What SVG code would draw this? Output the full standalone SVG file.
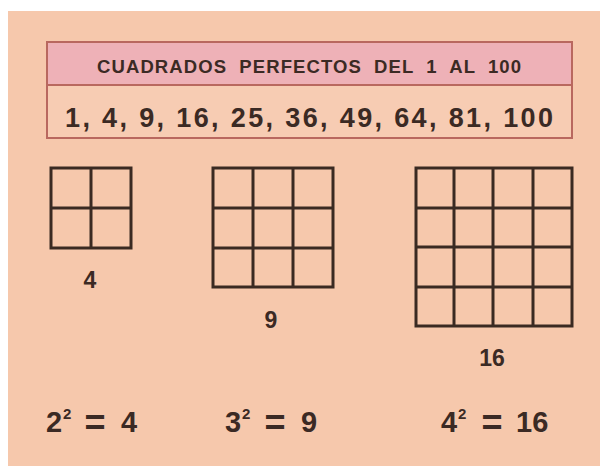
<svg xmlns="http://www.w3.org/2000/svg" width="600" height="466" viewBox="0 0 600 466">
<style>
.t{font-family:"Liberation Sans",Arial,sans-serif;font-weight:bold;fill:#3b2a24}
.g{fill:none;stroke:#3a2a22;stroke-width:3}
.eqs{font-size:36px}
</style>
<rect width="600" height="466" fill="#ffffff"/>
<rect x="8" y="11" width="592" height="455" fill="#f6c8ac"/>
<g id="header">
<rect x="47" y="42" width="525" height="43" fill="#eeb1b7" stroke="#b9685f" stroke-width="2"/>
<rect x="47" y="85" width="525" height="53" fill="#f7ccb3" stroke="#b9685f" stroke-width="2"/>
<text class="t" x="97" y="73" font-size="18.5" word-spacing="6" textLength="424" lengthAdjust="spacing">CUADRADOS PERFECTOS DEL 1 AL 100</text>
<text class="t" x="65" y="127" font-size="27" textLength="488" lengthAdjust="spacing">1, 4, 9, 16, 25, 36, 49, 64, 81, 100</text>
</g>
<g id="grid4">
<rect class="g" x="51" y="168" width="80" height="80"/>
<path class="g" d="M91 168V248M51 208H131"/>
<text class="t" x="90" y="288" font-size="23" text-anchor="middle">4</text>
</g>
<g id="grid9">
<rect class="g" x="213" y="168" width="120" height="119"/>
<path class="g" d="M253 168V287M293 168V287M213 208H333M213 248H333"/>
<text class="t" x="271" y="328" font-size="23" text-anchor="middle">9</text>
</g>
<g id="grid16">
<rect class="g" x="416" y="168" width="156" height="158"/>
<path class="g" d="M454 168V326M493 168V326M533 168V326M416 208H572M416 247H572M416 287H572"/>
<text class="t" x="492" y="366" font-size="23" text-anchor="middle">16</text>
</g>
<g id="eq1">
<text class="t" x="46" y="432" font-size="29">2</text>
<text class="t" x="63" y="419" font-size="15">2</text>
<text class="t eqs" x="95" y="435" text-anchor="middle">=</text>
<text class="t" x="121" y="432" font-size="29">4</text>
</g>
<g id="eq2">
<text class="t" x="225" y="432" font-size="29">3</text>
<text class="t" x="242" y="419" font-size="15">2</text>
<text class="t eqs" x="275" y="435" text-anchor="middle">=</text>
<text class="t" x="301" y="432" font-size="29">9</text>
</g>
<g id="eq3">
<text class="t" x="441" y="432" font-size="29">4</text>
<text class="t" x="458" y="419" font-size="15">2</text>
<text class="t eqs" x="492" y="435" text-anchor="middle">=</text>
<text class="t" x="516" y="432" font-size="29">16</text>
</g>
</svg>
